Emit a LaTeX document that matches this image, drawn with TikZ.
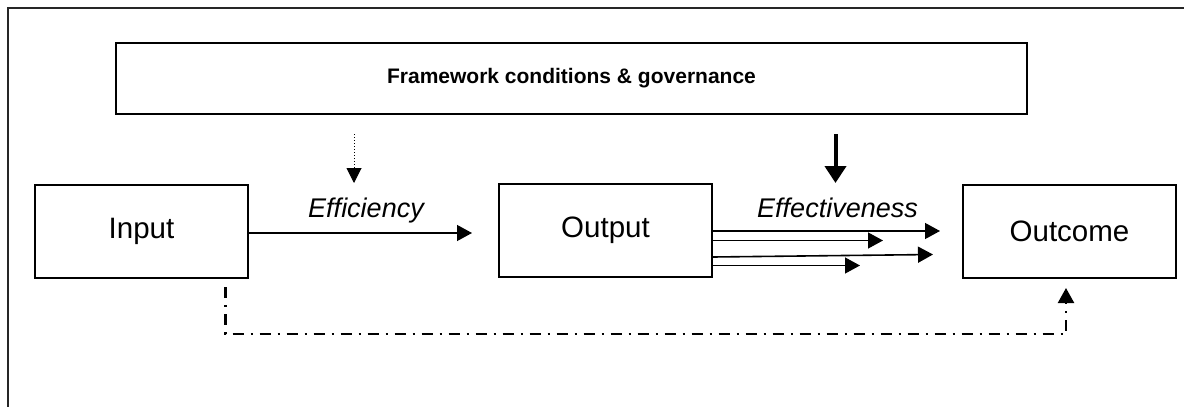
\documentclass[tikz,border=0pt]{standalone}
\usepackage{fontspec}
\setmainfont{Liberation Sans}
\usetikzlibrary{arrows.meta,calc}
\tikzset{
  box/.style={draw, line width=1.6pt, minimum width=213pt, minimum height=93pt, inner sep=0pt},
  lbl/.style={font=\fontsize{29.5}{34}\selectfont},
  itl/.style={font=\fontsize{27}{31}\selectfont\itshape, inner sep=0pt, anchor=base},
  arr/.style={line width=1.3pt, -{Triangle[length=15pt,width=16pt]}},
  frame/.style={line width=1.6pt, draw=black!85},
}
\begin{document}
\begin{tikzpicture}[x=1pt,y=-1pt]
\useasboundingbox (0,0) rectangle (1184,407);
% outer frame (top and left edges visible)
\draw[frame] (8,407) -- (8,8) -- (1184,8);
% boxes
\node[draw, line width=1.6pt, minimum width=911pt, minimum height=71pt, inner sep=0pt,
      font=\fontsize{21}{25}\selectfont\bfseries] (fw) at (571.5,78.5) {Framework conditions \& governance};
\node[box, lbl] (in) at (141.5,231.5) {Input};
\node[box, lbl] (out) at (605.5,230.5) {Output};
\node[box, lbl] (oc) at (1069.5,231.5) {Outcome};
% labels
\node[itl] (eff) at (366,217) {Efficiency};
\node[itl] (efv) at (837.5,217) {Effectiveness};
% efficiency arrow
\coordinate (t1) at (472,233);
\draw[arr] (in.east |- t1) -- (t1);
% influence arrows from framework
\coordinate (d0) at (354,134);
\coordinate (d1) at (354,183);
\draw[line width=1pt, dotted, -{Triangle[length=15pt,width=15pt]}] (d0) -- (d1);
\coordinate (k0) at (835.5,134);
\coordinate (k1) at (835.5,183);
\draw[line width=4pt, -{Triangle[length=17pt,width=21pt]}] (k0) -- (k1);
% effectiveness arrows
\coordinate (e1) at (940,231);
\coordinate (e2) at (883,240.5);
\coordinate (e3s) at (713,257);
\coordinate (e3) at (933,254.5);
\coordinate (e4) at (860,265.5);
\draw[arr] (out.east |- e1) -- (e1);
\draw[arr] (out.east |- e2) -- (e2);
\draw[arr, line width=1.6pt] (out.east |- e3s) -- (e3);
\draw[arr] (out.east |- e4) -- (e4);
% dash-dot connector
\coordinate (s0) at (225.5,287);
\coordinate (s1) at (1066,288);
\draw[line width=2.2pt, dash pattern=on 11pt off 7pt on 2pt off 7pt,
      -{Triangle[length=15pt,width=16pt]}] (s0) -- (s0 |- 0,334) -- (s1 |- 0,334) -- (s1);
\end{tikzpicture}
\end{document}
